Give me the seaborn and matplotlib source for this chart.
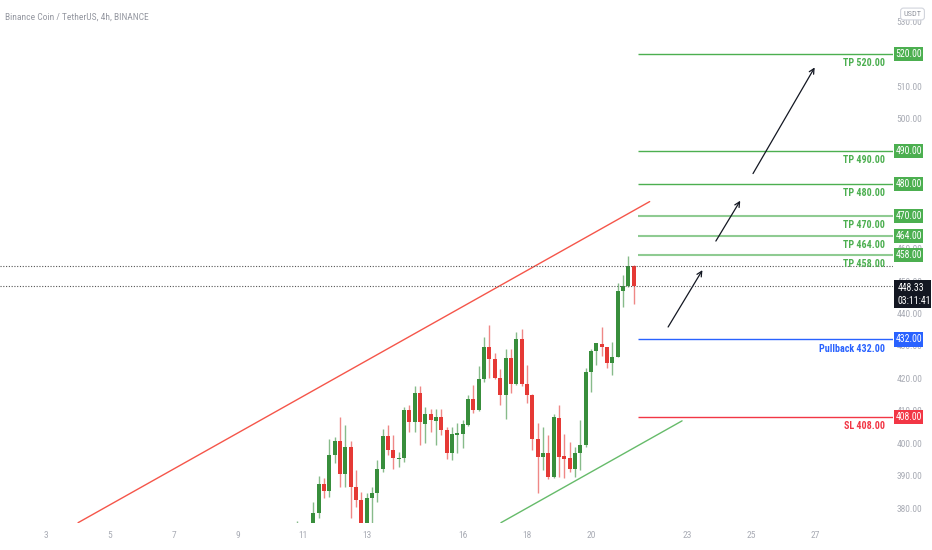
import matplotlib
matplotlib.use("Agg")
import matplotlib.pyplot as plt
import matplotlib.transforms as mtransforms
from matplotlib import font_manager
from matplotlib.patches import Rectangle
import seaborn as sns
import pandas as pd
import numpy as np

# --- data ---
first_candle_day = 10.8333   # day of month of the first 4h candle
candle_step = 1 / 6          # 4h in days

opens = [372.5, 373.8, 371.0, 372.2, 378.4, 387.3, 385.4, 396.4, 400.7, 390.4,
         398.9, 386.6, 382.5, 374.2, 383.0, 384.8, 392.2, 402.2, 397.9, 395.2,
         395.3, 410.2, 406.6, 415.4, 405.8, 408.9, 406.9, 408.0, 404.1, 397.1,
         402.6, 403.0, 405.6, 413.6, 410.2, 419.7, 429.8, 425.9, 420.0, 414.9,
         426.3, 418.3, 432.1, 418.3, 414.9, 401.2, 395.8, 397.1, 389.7, 407.7,
         396.0, 395.6, 392.2, 396.9, 399.4, 422.0, 428.5, 430.5, 429.6, 424.6,
         426.7, 447.0, 448.5, 454.6]
highs = [375.9, 375.2, 374.5, 382.0, 389.9, 389.2, 401.2, 402.0, 408.0, 405.6,
         400.8, 391.9, 385.0, 384.7, 386.6, 394.8, 404.3, 405.6, 402.5, 397.4,
         411.1, 411.8, 417.6, 417.6, 411.1, 410.7, 410.7, 410.4, 405.1, 404.9,
         406.1, 407.1, 414.9, 417.9, 423.8, 432.6, 436.4, 427.7, 422.8, 429.2,
         428.9, 434.4, 435.1, 424.1, 415.2, 406.3, 405.1, 402.5, 408.9, 411.8,
         403.0, 400.5, 398.9, 407.1, 423.1, 429.2, 431.0, 435.7, 429.8, 431.3,
         449.3, 451.9, 457.7, 455.0]
lows = [370.5, 369.8, 368.9, 371.5, 376.8, 383.2, 383.5, 393.8, 386.6, 386.6,
        376.8, 380.4, 372.0, 372.5, 373.0, 382.0, 391.2, 396.3, 392.2, 392.7,
        394.3, 403.6, 403.6, 399.4, 400.0, 403.6, 399.4, 402.5, 395.0, 394.8,
        397.1, 398.4, 405.3, 409.4, 409.8, 419.0, 420.0, 419.7, 411.8, 407.4,
        415.6, 417.9, 417.6, 412.3, 397.9, 384.7, 391.7, 388.9, 389.2, 389.7,
        389.2, 391.2, 389.7, 391.7, 398.9, 415.9, 424.1, 426.9, 423.1, 421.0,
        426.5, 442.1, 448.1, 442.9]
closes = [373.8, 371.0, 372.2, 378.4, 387.3, 385.4, 396.4, 400.7, 390.4, 398.9,
          386.6, 382.5, 374.2, 383.0, 384.8, 392.2, 402.2, 397.9, 395.3, 395.6,
          410.2, 406.6, 415.4, 406.6, 408.9, 407.1, 408.0, 404.1, 397.1, 402.8,
          403.2, 405.8, 413.6, 410.2, 419.7, 429.8, 425.9, 420.0, 414.9, 426.3,
          418.3, 432.1, 418.3, 414.9, 401.2, 395.8, 397.1, 389.7, 408.0, 395.8,
          395.1, 392.2, 396.9, 399.4, 422.0, 428.5, 430.8, 429.6, 424.6, 426.7,
          447.0, 448.5, 454.6, 448.33]

last_price = 448.33
countdown = "03:11:41"
prev_close = 454.6

level_values = [520, 490, 480, 470, 464, 458, 432, 408]
level_names = ["TP", "TP", "TP", "TP", "TP", "TP", "Pullback", "SL"]
level_start_day = 21.47

red_trend_days = [4.0, 21.83]
red_trend_prices = [375.5, 474.5]
green_trend_days = [17.19, 22.84]
green_trend_prices = [375.5, 406.9]

arrow_start_days = [22.36, 23.85, 25.01]
arrow_start_prices = [435.1, 461.6, 482.4]
arrow_end_days = [23.52, 24.70, 27.02]
arrow_end_prices = [454.1, 475.5, 516.6]

date_ticks = [3, 5, 7, 9, 11, 13, 16, 18, 20, 23, 25, 27]
price_ticks = list(range(380, 531, 10))

title = "Binance Coin / TetherUS, 4h, BINANCE"

# --- style ---
sns.set_theme(style="white")
fonts = font_manager.fontManager.ttflist
names = {f.name for f in fonts}
if "Liberation Sans Narrow" in names:
    plt.rcParams["font.family"] = ["Liberation Sans Narrow", "DejaVu Sans"]
elif "Roboto Condensed" in names:
    plt.rcParams["font.family"] = ["Roboto Condensed", "DejaVu Sans"]
else:
    plt.rcParams["font.family"] = ["DejaVu Sans"]
    plt.rcParams["font.stretch"] = "condensed"

UP = "#388E3C"
DOWN = "#E53935"
TP_DARK = "#4CAF50"
TP_LIGHT = "#8FCB92"
BLUE = "#2962FF"
RED = "#F23645"
AXIS_TXT = "#A9ACB5"
TICK_SIZE = 6.8
BOX_SIZE = 7

df = pd.DataFrame({"open": opens, "high": highs, "low": lows, "close": closes})
df["day"] = first_candle_day + np.arange(len(df)) * candle_step
df["up"] = df["close"] >= df["open"]

fig = plt.figure(figsize=(9.32, 5.5), dpi=100)
ax = fig.add_axes([0, 27.3 / 550, 893 / 932, 1 - 27.3 / 550])
ax.set_xlim(1.565, 29.42)
ax.set_ylim(375.5, 536.65)

# trend lines
sns.lineplot(x=red_trend_days, y=red_trend_prices, ax=ax, color="#F44336", lw=1, alpha=0.9)
sns.lineplot(x=green_trend_days, y=green_trend_prices, ax=ax, color="#66BB6A", lw=1)

# dotted price lines
ax.axhline(prev_close, color="#555555", lw=0.8, ls=(0, (1, 1.5)))
ax.axhline(last_price, color="#555555", lw=0.8, ls=(0, (1, 1.5)))

# candles
cols = np.where(df["up"], UP, DOWN)
ax.vlines(df["day"], df["low"], df["high"], colors=cols, lw=1, alpha=0.6)
body_low = df[["open", "close"]].min(axis=1)
body_h = (df["close"] - df["open"]).abs().clip(lower=0.35)
ax.bar(df["day"], body_h, bottom=body_low, width=0.125, color=cols, linewidth=0)

# levels
blend = mtransforms.blended_transform_factory(ax.transAxes, ax.transData)
label_day = 29.17
for val, name in zip(level_values, level_names):
    if name == "TP":
        light = val in (470, 464, 458)
        lc = TP_LIGHT if light else TP_DARK
        lw = 1.5 if light else 1
        tc = bc = TP_DARK
    elif name == "Pullback":
        lc, lw, tc, bc = BLUE, 1, BLUE, BLUE
    else:
        lc, lw, tc, bc = RED, 1, RED, RED
    ax.hlines(val, level_start_day, 29.42, color=lc, lw=lw)
    ax.text(label_day, val - 2.8, f"{name} {val:.2f}", color=tc, ha="right", va="center",
            fontsize=7.2, fontweight="bold")
    ax.add_patch(Rectangle((1.001, val - 2.2), 0.033, 4.4, transform=blend,
                           facecolor=bc, edgecolor="none", clip_on=False, zorder=5))
    ax.text(1.0175, val, f"{val:.2f}", transform=blend, color="white", ha="center",
            va="center", fontsize=BOX_SIZE, clip_on=False, zorder=6)

# arrows
for sx, sy, ex, ey in zip(arrow_start_days, arrow_start_prices, arrow_end_days, arrow_end_prices):
    ax.annotate("", xy=(ex, ey), xytext=(sx, sy),
                arrowprops=dict(arrowstyle="->", color="#131722", lw=0.9, mutation_scale=9))

# last price box
ax.add_patch(Rectangle((1.001, 441.7), 0.042, 8.6, transform=blend, facecolor="#131722",
                       edgecolor="none", clip_on=False, zorder=5))
ax.text(1.005, 447.8, f"{last_price:.2f}", transform=blend, color="white", ha="left",
        va="center", fontsize=BOX_SIZE, clip_on=False, zorder=6)
ax.text(1.005, 443.9, countdown, transform=blend, color="white", ha="left",
        va="center", fontsize=BOX_SIZE, clip_on=False, zorder=6)

# axes
ax.yaxis.tick_right()
ax.set_yticks(price_ticks)
ax.set_yticklabels([f"{v:.2f}" for v in price_ticks])
ax.set_xticks(date_ticks)
ax.set_xticklabels([str(d) for d in date_ticks])
ax.tick_params(axis="y", length=0, pad=2.5, labelsize=TICK_SIZE, labelcolor=AXIS_TXT)
ax.tick_params(axis="x", length=0, pad=6, labelsize=TICK_SIZE, labelcolor=AXIS_TXT)
for s in ax.spines.values():
    s.set_visible(False)
ax.set_xlabel("")
ax.set_ylabel("")

fig.text(5 / 932, 1 - 17 / 550, title, color="#9598A1", fontsize=6.8, va="center", ha="left")
fig.text(912.5 / 932, 1 - 14 / 550, "USDT", color="#9598A1", fontsize=6, ha="center",
         va="center", zorder=10,
         bbox=dict(boxstyle="round,pad=0.35", fc="white", ec="#D1D4DC", lw=0.8))

fig.savefig("out.png", dpi=100)
